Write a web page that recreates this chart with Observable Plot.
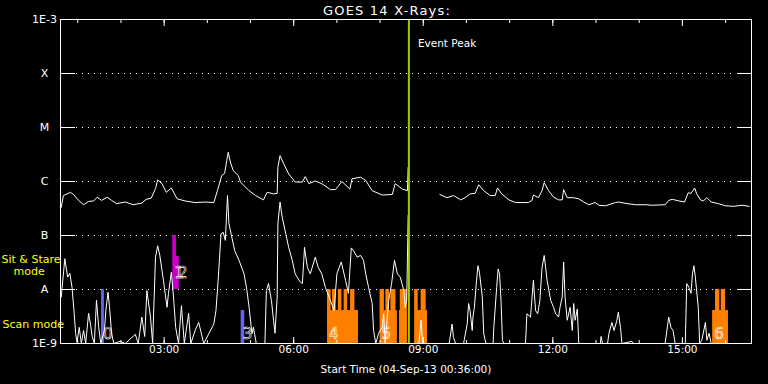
<!DOCTYPE html>
<html><head><meta charset="utf-8">
<script src="https://cdn.jsdelivr.net/npm/d3@7"></script>
<script src="https://cdn.jsdelivr.net/npm/@observablehq/plot@0.6"></script>
<style>html,body{margin:0;padding:0;background:#000;} svg{display:block}</style>
</head><body><div id="chart"></div>
<script>
// ---- data ----
const startTime = Date.UTC(2013, 8, 4, 0, 36);
const spanMinutes = 960;
const peakMinute = 484;

const levelValues = [1e-9, 1e-8, 1e-7, 1e-6, 1e-5, 1e-4, 1e-3];
const levelLabels = ["1E-9", "A", "B", "C", "M", "X", "1E-3"];

// GOES 14 long channel: minutes after start, log10 flux (W/m^2); null = data gap
const goesMinutes = [1,4,14,18,25,32,39,46,51,57,65,71,78,90,101,113,119,126,132,135,141,147,154,162,173,187,201,213,218,224,228,231,233,236,240,247,250,262,271,282,287,296,301,302,305,310,317,326,336,340,345,354,363,375,382,391,402,405,417,424,433,447,461,465,475,482,483,
  505,
  527,537,546,556,562,569,576,581,588,597,604,607,613,623,632,650,655,657,664,669,672,678,685,692,697,699,704,713,720,727,734,743,748,757,771,775,787,799,813,822,840,845,850,859,867,872,876,881,884,889,893,898,904,914,924,935,947,957];
const goesLogFlux = [-6.48,-6.26,-6.20,-6.24,-6.35,-6.43,-6.37,-6.36,-6.29,-6.35,-6.29,-6.35,-6.41,-6.38,-6.43,-6.40,-6.33,-6.31,-6.13,-5.97,-6.04,-6.20,-6.12,-6.32,-6.36,-6.39,-6.38,-6.39,-6.17,-5.89,-5.85,-5.61,-5.46,-5.64,-5.80,-5.89,-6.01,-6.17,-6.26,-6.34,-6.20,-6.23,-6.22,-5.74,-5.52,-5.67,-5.86,-6.01,-6.01,-5.91,-6.04,-5.99,-6.04,-6.15,-6.15,-6.00,-6.14,-5.95,-5.92,-5.98,-6.17,-6.25,-6.24,-6.04,-6.14,-6.17,-5.74,
  null,
  -6.24,-6.30,-6.26,-6.34,-6.30,-6.23,-6.22,-6.06,-6.17,-6.26,-6.26,-6.12,-6.23,-6.34,-6.39,-6.39,-6.35,-6.25,-6.30,-6.17,-6.02,-6.17,-6.29,-6.34,-6.34,-6.15,-6.30,-6.30,-6.32,-6.38,-6.43,-6.39,-6.44,-6.45,-6.39,-6.38,-6.41,-6.43,-6.43,-6.44,-6.43,-6.35,-6.33,-6.36,-6.38,-6.21,-6.22,-6.12,-6.23,-6.34,-6.36,-6.30,-6.38,-6.41,-6.45,-6.46,-6.44,-6.46];

// lower (instrument) trace, same axis units
const traceMinutes = [1,6,10,13,16,19,21,23,26,29,32,35,39,42,44,47,50,53,56,61,63,66,68,71,74,83,90,104,108,113,117,120,125,128,132,135,138,143,148,150,154,157,160,164,168,172,178,181,187,192,199,213,216,219,223,226,229,232,234,238,242,248,255,259,262,266,268,272,284,286,289,293,296,298,301,302,305,308,313,317,322,326,333,336,338,339,343,347,354,358,363,368,375,380,384,390,396,400,404,407,412,417,421,424,428,433,435,438,442,447,449,451,456,460,464,468,472,477,479,481,483,
  490,
  498,501,503,515,540,544,546,549,560,565,567,569,572,573,575,578,580,582,586,588,591,601,602,606,608,610,612,614,616,646,648,653,657,660,663,666,669,672,674,676,681,685,688,692,694,697,699,701,704,708,711,713,715,718,720,750,751,753,760,762,766,769,773,775,778,780,794,796,840,845,848,851,854,868,870,873,876,878,880,882,886,888,891,896,898,901,904,957];
const traceLogFlux = [-8.14,-7.43,-7.77,-7.70,-7.96,-8.44,-8.81,-8.98,-8.70,-9,-8.76,-9,-8.44,-8.67,-8.87,-9,-8.20,-8.69,-9,-8.76,-8.39,-8.05,-8.31,-8.81,-9,-8.96,-9,-8.83,-9,-8.51,-8.87,-8.02,-8.51,-9,-7.40,-7.19,-7.37,-7.83,-8.33,-8.07,-7.68,-8.14,-8.70,-9,-8.30,-9,-8.44,-9,-8.76,-8.61,-9,-8.64,-8.39,-7.83,-6.97,-6.94,-7.09,-6.26,-6.78,-7.03,-7.28,-7.46,-7.71,-8.02,-8.33,-8.82,-8.70,-9,-9,-8.02,-7.89,-8.20,-8.57,-8.81,-8.14,-6.78,-6.38,-6.66,-6.97,-7.22,-7.46,-7.71,-7.86,-7.89,-7.46,-7.22,-7.59,-7.71,-7.40,-7.59,-7.71,-7.96,-8.20,-8.39,-7.71,-7.49,-7.83,-8.07,-7.23,-7.28,-7.40,-7.37,-7.46,-7.71,-7.96,-8.26,-8.76,-9,-8.81,-8.70,-8.45,-9,-8.20,-7.89,-7.46,-7.71,-7.77,-8.02,-8.33,-8.20,-6.63,
  null,
  -9,-8.57,-9,-9,-9,-8.64,-8.89,-9,-9,-8.64,-8.26,-8.39,-8.76,-8.51,-8.33,-7.83,-7.56,-7.68,-8.14,-8.82,-9,-9,-8.70,-7.96,-7.62,-7.71,-8.20,-8.94,-9,-9,-8.45,-8.51,-7.83,-8.39,-8.45,-8.20,-7.59,-7.37,-7.59,-7.83,-8.20,-8.33,-8.45,-8.51,-8.33,-8.14,-7.49,-8.14,-8.57,-8.33,-8.76,-8.26,-8.57,-8.36,-9,-9,-8.87,-9,-9,-8.81,-8.61,-8.76,-8.57,-8.42,-8.70,-9,-8.96,-9,-9,-8.51,-8.70,-8.76,-9,-9,-7.89,-7.96,-8.07,-7.71,-7.56,-7.77,-8.33,-9,-8.94,-8.61,-8.94,-8.81,-9,-9];

// observation blocks: kind, start/end minute, low/high log10 level
const segKind  = ["raster","sit","sit","raster","scan","scan","scan","scan","scan","scan","scan","scan","scan","scan","scan","scan","scan","scan","scan","scan","scan","scan"];
const segStart = [57,156,161,251,371,371,378,386,394,403,444,471,492,444,452,459,472,492,501,906,910,918];
const segEnd   = [61,161,165,256,414,376,383,391,399,409,468,482,510,450,457,466,482,497,508,928,916,924];
const segLow   = [-9,-8,-8,-9,-9,-8.39,-8.39,-8.39,-8.39,-8.39,-9,-9,-9,-8.39,-8.39,-8.39,-8.39,-8.39,-8.39,-9,-8.39,-8.39];
const segHigh  = [-8,-7,-7.39,-8.39,-8.39,-8,-8,-8,-8,-8,-8.39,-8.39,-8.39,-8,-8,-8,-8,-8,-8,-8.39,-8,-8];

const blockLabels  = ["0","1","2","3","4","5","6"];
const blockMinutes = [57,156,161,251,371,444,906];
const blockLogY    = [-8.82,-7.69,-7.69,-8.82,-8.82,-8.82,-8.82];

const keyTexts = ["Sit & Stare", "mode", "Scan mode"];
const keyLogY  = [-7.44, -7.67, -8.65];

const kindColors = {domain: ["raster","sit","scan"], range: ["#6464ee","#cc00cc","#ff8000"]};

// ---- derived tables ----
const t = m => new Date(startTime + m * 60000);
const lv = v => v == null ? NaN : 10 ** v;
const goes = goesMinutes.map((m, i) => ({time: t(m), flux: lv(goesLogFlux[i])}));
const trace = traceMinutes.map((m, i) => ({time: t(m), flux: lv(traceLogFlux[i])}));
const segs = segKind.map((k, i) => ({kind: k, t1: t(segStart[i]), t2: t(segEnd[i]), y1: lv(segLow[i]), y2: lv(segHigh[i])}));
const blocks = blockLabels.map((s, i) => ({label: s, time: t(blockMinutes[i]), y: lv(blockLogY[i])}));
const x0 = t(0), x1 = t(spanMinutes);
const hourTicks = d3.utcHour.range(x0, x1);
const majorTicks = hourTicks.filter(d => d.getUTCHours() % 3 === 0);
const labelFor = v => levelLabels[levelValues.findIndex(l => Math.abs(Math.log10(l) - Math.log10(v)) < 1e-6)];
const peak = t(peakMinute);
const keyDx = [-59, -47, -58];
const keyMarks = keyTexts.map((s, i) => Plot.text([s], {y: () => lv(keyLogY[i]), frameAnchor: "left", textAnchor: "start", lineAnchor: "middle", dx: keyDx[i], fill: "#ffff00", fontSize: 11}));

const chart = Plot.plot({
  width: 768, height: 384,
  marginLeft: 60, marginRight: 17, marginTop: 19, marginBottom: 41,
  style: {background: "black", color: "white", fontFamily: "DejaVu Sans", fontSize: "10.5px"},
  x: {type: "utc", domain: [x0, x1]},
  y: {type: "log", domain: [1e-9, 1e-3]},
  color: kindColors,
  marks: [
    Plot.ruleY(levelValues.slice(1, -1), {stroke: "white", strokeDasharray: "1,5", insetLeft: 16, insetRight: 16}),
    Plot.rect(segs, {x1: "t1", x2: "t2", y1: "y1", y2: "y2", fill: "kind"}),
    Plot.line(trace, {x: "time", y: "flux", stroke: "white", strokeWidth: 1}),
    Plot.line(goes, {x: "time", y: "flux", stroke: "white", strokeWidth: 1}),
    Plot.ruleX([peak], {stroke: "#9acd00", strokeWidth: 2}),
    Plot.text([peak], {x: d => d, frameAnchor: "top", lineAnchor: "middle", dy: 24, dx: 9, text: () => "Event Peak", textAnchor: "start", fill: "white", fontSize: 10.5}),
    Plot.text(blocks, {x: "time", y: "y", text: "label", textAnchor: "start", lineAnchor: "middle", dx: 1.5, fontSize: 15, fill: "none", stroke: "white", strokeWidth: 0.6}),
    ...keyMarks,
    Plot.text(["GOES 14 X-Rays:"], {frameAnchor: "top", lineAnchor: "middle", dy: -9, dx: -19, fontSize: 13, fill: "white"}),
    Plot.text(["Start Time (04-Sep-13 00:36:00)"], {frameAnchor: "bottom", lineAnchor: "middle", dy: 26, fontSize: 10.5, fill: "white"}),
    Plot.frame({stroke: "white"}),
    Plot.axisY(levelValues, {anchor: "left", tickSize: 0, tickPadding: 16, textAnchor: "middle", tickFormat: labelFor, fontSize: 11}),
    Plot.axisY(levelValues, {anchor: "left", tickSize: -15, tickFormat: () => ""}),
    Plot.axisY(levelValues, {anchor: "right", tickSize: -15, tickFormat: () => ""}),
    Plot.axisX(hourTicks, {anchor: "bottom", tickSize: -3, tickFormat: () => ""}),
    Plot.axisX(majorTicks, {anchor: "bottom", tickSize: -6, tickPadding: 8, tickFormat: d3.utcFormat("%H:%M"), fontSize: 10.5}),
    Plot.axisX(hourTicks, {anchor: "top", tickSize: -3, tickFormat: () => ""}),
    Plot.axisX(majorTicks, {anchor: "top", tickSize: -6, tickFormat: () => ""})
  ]
});

d3.select(chart).selectAll("text")
  .filter(function() { return this.textContent === "GOES 14 X-Rays:"; })
  .attr("letter-spacing", 1.2);
document.getElementById("chart").appendChild(chart);
</script>
</body></html>
